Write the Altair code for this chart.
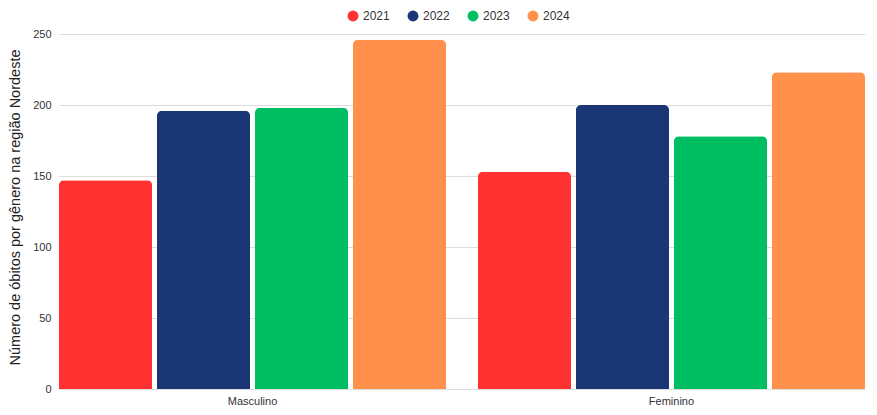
import altair as alt
import pandas as pd

generos = ["Masculino", "Feminino"]
anos = ["2021", "2022", "2023", "2024"]
masculino = [147, 196, 198, 246]
feminino = [153, 200, 178, 223]
cores = ["#FF3131", "#1A3675", "#00BF63", "#FF914D"]

rows = []
for g, vals in zip(generos, [masculino, feminino]):
    for a, v in zip(anos, vals):
        rows.append({"genero": g, "ano": a, "obitos": v})
df = pd.DataFrame(rows)

FONT = "Liberation Sans"

chart = alt.Chart(df).mark_bar(
    cornerRadiusTopLeft=5, cornerRadiusTopRight=5
).encode(
    x=alt.X("genero:N", sort=generos, title=None,
            scale=alt.Scale(paddingInner=0.076, paddingOuter=0),
            axis=alt.Axis(labelAngle=0, ticks=False, domain=False,
                          labelFont=FONT, labelFontSize=11, labelColor="#333333",
                          labelPadding=6)),
    xOffset=alt.XOffset("ano:N", sort=anos,
                        scale=alt.Scale(paddingInner=0.05, paddingOuter=0)),
    y=alt.Y("obitos:Q", title="Número de óbitos por gênero na região Nordeste",
            scale=alt.Scale(domain=[0, 250], nice=False),
            axis=alt.Axis(values=[0, 50, 100, 150, 200, 250], ticks=False, domain=False,
                          labelFont=FONT, labelFontSize=11, labelColor="#333333",
                          labelPadding=8, gridColor="#DDDDDD",
                          titleFont=FONT, titleFontSize=14.5, titleFontWeight="normal",
                          titleColor="#222222", titlePadding=10, titleY=173)),
    color=alt.Color("ano:N", sort=anos, title=None,
                    scale=alt.Scale(domain=anos, range=cores),
                    legend=alt.Legend(orient="none", legendX=288, legendY=-24,
                                      direction="horizontal", symbolType="circle",
                                      symbolSize=120, symbolStrokeWidth=0,
                                      labelFont=FONT, labelFontSize=12,
                                      labelColor="#333333", columnPadding=17)),
).properties(
    width=806, height=355,
    background="white",
    autosize=alt.AutoSizeParams(type="none"),
    padding={"left": 51, "top": 26, "right": 2, "bottom": 16},
).configure_view(stroke=None)

chart.save("out.html", embed_options={"renderer": "svg", "actions": False})
